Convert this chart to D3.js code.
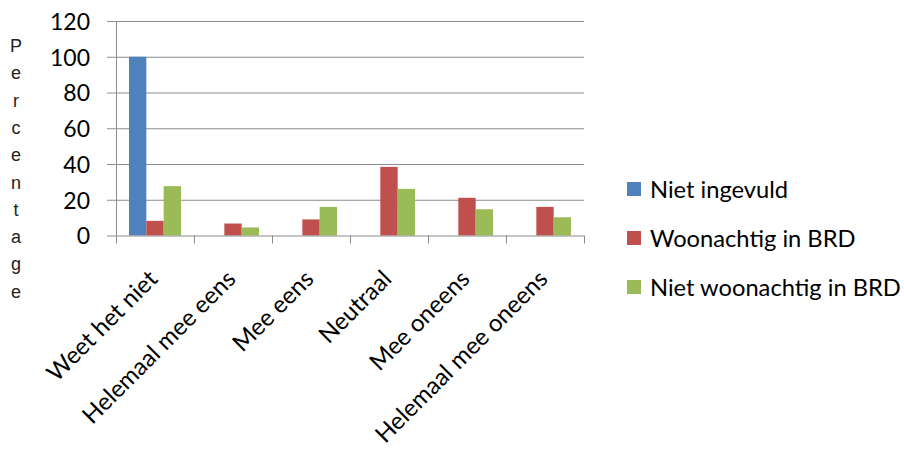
<!DOCTYPE html>
<html>
<head>
<meta charset="utf-8">
<script src="https://cdn.jsdelivr.net/npm/d3@7"></script>
<style>
  body { margin: 0; background: #fff; }
  text { font-family: Lato, "Open Sans", sans-serif; fill: #000; }
</style>
</head>
<body>
<div id="chart"></div>
<script>
"use strict";

// categories and series
var categories = ["Weet het niet", "Helemaal mee eens", "Mee eens", "Neutraal", "Mee oneens", "Helemaal mee oneens"];
var seriesNames = ["Niet ingevuld", "Woonachtig in BRD", "Niet woonachtig in BRD"];
var nietIngevuld = [100, 0, 0, 0, 0, 0];
var woonachtig = [8.2, 6.7, 9.0, 38.4, 21.1, 16.0];
var nietWoonachtig = [27.6, 4.5, 16.0, 26.1, 14.7, 10.2];
var yTicks = [0, 20, 40, 60, 80, 100, 120];
var colors = ["#4F81BD", "#C0504D", "#9BBB59"];
var yTitle = "Percentage";

var series = [nietIngevuld, woonachtig, nietWoonachtig];

var margin = {top: 21, left: 116},
    width = 468,
    height = 214.5;

var svg = d3.select("#chart").append("svg")
    .attr("width", 904)
    .attr("height", 449);

var g = svg.append("g")
    .attr("transform", "translate(" + margin.left + "," + margin.top + ")");

var x = d3.scaleBand()
    .domain(categories)
    .range([0, width]);

var xInner = d3.scaleBand()
    .domain(d3.range(series.length))
    .range([0, x.bandwidth()])
    .paddingInner(0)
    .paddingOuter(0.75);

var y = d3.scaleLinear()
    .domain([0, 120])
    .range([height, 0]);

// gridlines + y axis
var yAxis = g.append("g")
    .call(d3.axisLeft(y).tickValues(yTicks).tickSize(9).tickPadding(17));
yAxis.select(".domain").remove();
yAxis.selectAll(".tick line").attr("stroke", "#8c8c8c");
yAxis.selectAll(".tick text")
    .style("font-size", "23px")
    .attr("dy", "0.36em");

g.append("g")
  .selectAll("line")
  .data(yTicks.filter(function(d) { return d > 0; }))
  .enter().append("line")
    .attr("x1", 0)
    .attr("x2", width)
    .attr("y1", function(d) { return y(d) + 0.5; })
    .attr("y2", function(d) { return y(d) + 0.5; })
    .attr("stroke", "#8c8c8c")
    .attr("stroke-width", 1);

// bars
var rows = [];
categories.forEach(function(c, i) {
  series.forEach(function(s, j) {
    rows.push({cat: c, s: j, v: s[i]});
  });
});

g.selectAll(".bar")
    .data(rows.filter(function(d) { return d.v > 0; }))
  .enter().append("rect")
    .attr("class", "bar")
    .attr("x", function(d) { return x(d.cat) + xInner(d.s); })
    .attr("width", xInner.bandwidth())
    .attr("y", function(d) { return y(d.v); })
    .attr("height", function(d) { return height - y(d.v); })
    .attr("fill", function(d) { return colors[d.s]; });

// vertical axis line
g.append("line")
    .attr("x1", 0.5).attr("x2", 0.5)
    .attr("y1", 0).attr("y2", height)
    .attr("stroke", "#8c8c8c");

// x axis
var xAxisG = g.append("g")
    .attr("transform", "translate(0," + height + ")");

xAxisG.append("line")
    .attr("x1", 0).attr("x2", width)
    .attr("y1", 0.5).attr("y2", 0.5)
    .attr("stroke", "#8c8c8c");

xAxisG.selectAll(".xtick")
    .data(d3.range(categories.length + 1))
  .enter().append("line")
    .attr("x1", function(i) { return i * x.step() + 0.5; })
    .attr("x2", function(i) { return i * x.step() + 0.5; })
    .attr("y1", 0)
    .attr("y2", 8)
    .attr("stroke", "#8c8c8c");

// rotated category labels
xAxisG.selectAll(".xlabel")
    .data(categories)
  .enter().append("text")
    .attr("class", "xlabel")
    .attr("text-anchor", "end")
    .style("font-size", "24px")
    .attr("transform", function(d) {
      return "translate(" + (x(d) + x.bandwidth() / 2 + 4) + "," + 45 + ") rotate(-45)";
    })
    .text(function(d) { return d; });

// y title, one letter per line
svg.append("g")
  .selectAll("text")
  .data(yTitle.split(""))
  .enter().append("text")
    .attr("x", 16)
    .attr("y", function(d, i) { return 52 + i * 27.3; })
    .attr("text-anchor", "middle")
    .style("font-family", "'Liberation Sans', Arial, sans-serif")
    .style("font-size", "18px")
    .style("fill", "#222")
    .text(function(d) { return d; });

// legend
var legend = svg.append("g")
    .attr("transform", "translate(627,182)");

var item = legend.selectAll(".item")
    .data(seriesNames)
  .enter().append("g")
    .attr("class", "item")
    .attr("transform", function(d, i) { return "translate(0," + (i * 49) + ")"; });

item.append("rect")
    .attr("width", 14)
    .attr("height", 14)
    .attr("fill", function(d, i) { return colors[i]; });

item.append("text")
    .attr("x", 23)
    .attr("y", 7)
    .attr("dy", "0.36em")
    .style("font-size", "23.7px")
    .text(function(d) { return d; });
</script>
</body>
</html>
